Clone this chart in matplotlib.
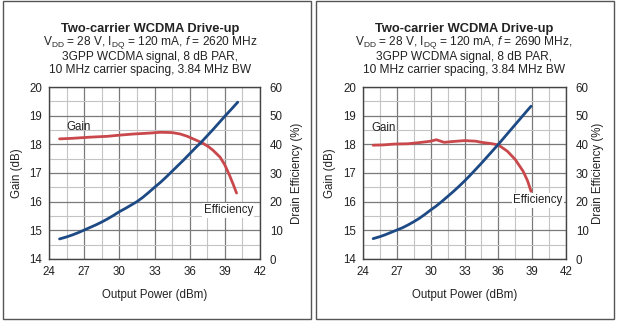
import matplotlib
matplotlib.use("Agg")
import matplotlib.pyplot as plt
from matplotlib.patches import Rectangle

plt.rcParams['font.family'] = ['Liberation Sans', 'DejaVu Sans']
plt.rcParams['mathtext.fontset'] = 'custom'
plt.rcParams['mathtext.rm'] = 'Liberation Sans'
plt.rcParams['mathtext.it'] = 'Liberation Sans:italic'

# ---- data ----
freqs = ["2620", "2690"]
subtitle_sep = [" MHz", " MHz,"]

# 2620 MHz panel
gain_x_a = [24.9, 26.0, 27.5, 29.0, 30.0, 31.2, 32.5, 33.5, 34.5, 35.2, 35.8, 36.3, 36.8,
            37.2, 37.6, 38.0, 38.6, 39.0, 39.4, 39.7, 40.0]
gain_y_a = [18.19, 18.21, 18.25, 18.28, 18.32, 18.36, 18.39, 18.42, 18.41, 18.36, 18.28, 18.19, 18.10,
            18.02, 17.92, 17.79, 17.55, 17.28, 16.92, 16.62, 16.30]
eff_x_a = [24.9, 25.5, 26.0, 26.5, 27.0, 27.5, 28.0, 28.5, 29.0, 29.5, 30.0, 30.5, 31.0, 31.5,
           32.0, 32.5, 33.0, 33.5, 34.0, 34.5, 35.0, 35.5, 36.0, 36.5, 37.0, 37.5, 38.0, 38.5,
           39.0, 39.5, 40.1]
eff_y_a = [7.0, 7.7, 8.4, 9.2, 10.1, 11.0, 11.9, 12.9, 14.0, 15.2, 16.5, 17.6, 18.8, 20.0,
           21.5, 23.2, 25.0, 26.7, 28.6, 30.6, 32.6, 34.6, 36.7, 38.8, 40.8, 43.0, 45.2, 47.5,
           49.8, 52.0, 54.7]

# 2690 MHz panel
gain_x_b = [24.9, 25.8, 26.8, 28.0, 29.2, 30.0, 30.5, 31.2, 32.0, 33.0, 34.0, 34.5, 35.3, 36.0,
            36.8, 37.5, 38.2, 38.6, 38.9]
gain_y_b = [17.97, 17.98, 18.01, 18.02, 18.07, 18.11, 18.16, 18.07, 18.10, 18.13, 18.11, 18.07, 18.03, 17.98,
            17.76, 17.47, 17.06, 16.72, 16.36]
eff_x_b = [24.9, 25.5, 26.0, 26.5, 27.0, 27.5, 28.0, 28.5, 29.0, 29.5, 30.0, 30.5, 31.0, 31.5,
           32.0, 32.5, 33.0, 33.5, 34.0, 34.5, 35.0, 35.5, 36.0, 36.5, 37.0, 37.5, 38.0, 38.5,
           38.9]
eff_y_b = [7.1, 7.8, 8.5, 9.3, 10.1, 10.9, 11.9, 13.0, 14.2, 15.6, 17.1, 18.5, 20.1, 21.8,
           23.5, 25.3, 27.2, 29.2, 31.3, 33.4, 35.6, 37.8, 40.0, 42.3, 44.6, 46.9, 49.2, 51.5,
           53.3]

x_ticks = [24, 27, 30, 33, 36, 39, 42]
gain_ticks = [14, 15, 16, 17, 18, 19, 20]
eff_ticks = [0, 10, 20, 30, 40, 50, 60]

RED = "#c9484c"
BLUE = "#1d4a85"
TXT = "#222222"
W, H = 617, 321

fig = plt.figure(figsize=(W / 100, H / 100), dpi=100)
fig.patch.set_facecolor("white")


def px(x0, y0, w, h):
    """pixel box (top-left origin) -> figure fraction rect"""
    return [x0 / W, (H - y0 - h) / H, w / W, h / H]


panels = [
    dict(box=(3, 1, 308, 318), ax=(49, 87, 211, 172), gx=gain_x_a, gy=gain_y_a,
         ex=eff_x_a, ey=eff_y_a, f=freqs[0], sep=subtitle_sep[0],
         gain_lbl=(25.5, 18.6), eff_lbl=(37.2, 15.7), ylab_x=17, y2lab_x=297, cx=150),
    dict(box=(316, 1, 298, 318), ax=(363, 87, 203, 172), gx=gain_x_b, gy=gain_y_b,
         ex=eff_x_b, ey=eff_y_b, f=freqs[1], sep=subtitle_sep[1],
         gain_lbl=(24.7, 18.57), eff_lbl=(37.3, 16.05), ylab_x=330, y2lab_x=598, cx=464),
]

for p in panels:
    bx = p['box']
    fig.patches.append(Rectangle((bx[0] / W, (H - bx[1] - bx[3]) / H), bx[2] / W, bx[3] / H,
                                 transform=fig.transFigure, fill=False,
                                 edgecolor="#555555", linewidth=1.0))

    ax = fig.add_axes(px(*p['ax']))
    ax.set_xlim(24, 42)
    ax.set_ylim(14, 20)
    ax.set_xticks(x_ticks)
    ax.set_yticks(gain_ticks)
    ax.set_xticks([24 + 1.5 * i for i in range(13)], minor=True)
    ax.set_yticks([14 + 0.5 * i for i in range(13)], minor=True)
    ax.grid(True, which='major', color="#7a7a7a", linewidth=0.9)
    ax.grid(True, which='minor', color="#c4c4c4", linewidth=0.8)
    ax.set_axisbelow(True)
    ax.tick_params(which='both', length=0, labelsize=8.3, colors=TXT, pad=5)
    for s in ax.spines.values():
        s.set_color("#444444")
        s.set_linewidth(1.0)

    ax.plot(p['gx'], p['gy'], color=RED, linewidth=2.0, solid_capstyle='round')

    ax2 = ax.twinx()
    ax2.set_ylim(0, 60)
    ax2.set_yticks(eff_ticks)
    ax2.tick_params(length=0, labelsize=8.3, colors=TXT, pad=7)
    for s in ax2.spines.values():
        s.set_visible(False)
    ax2.plot(p['ex'], p['ey'], color=BLUE, linewidth=2.0, solid_capstyle='round')

    ax.text(*p['gain_lbl'], "Gain", fontsize=8.3, color=TXT, ha='left', va='center')
    ax.text(*p['eff_lbl'], "Efficiency", fontsize=8.3, color=TXT, ha='left', va='center',
            bbox=dict(facecolor='white', edgecolor='none', pad=1.0), zorder=5)

    fig.text(p['ylab_x'] / W, 1 - 173 / H, "Gain (dB)", rotation=90, fontsize=8.3,
             ha='center', va='center', color=TXT)
    fig.text(p['y2lab_x'] / W, 1 - 173 / H, "Drain Efficiency (%)", rotation=90, fontsize=8.3,
             ha='center', va='center', color=TXT)
    axc = (p['ax'][0] + p['ax'][2] / 2) / W
    fig.text(axc, 1 - 295 / H, "Output Power (dBm)", fontsize=8.3, ha='center', va='center',
             color=TXT)

    cx = p['cx'] / W
    fig.text(cx, 1 - 29 / H, "Two-carrier WCDMA Drive-up", fontsize=9.3, fontweight='bold',
             ha='center', va='center', color=TXT)
    fig.text(cx, 1 - 43 / H,
             r"V$_{\rm DD}$ = 28 V, I$_{\rm DQ}$ = 120 mA, $f$ = " + p['f'] + p['sep'],
             fontsize=8.6, ha='center', va='center', color=TXT)
    fig.text(cx, 1 - 57 / H, "3GPP WCDMA signal, 8 dB PAR,", fontsize=8.6,
             ha='center', va='center', color=TXT)
    fig.text(cx, 1 - 70 / H, "10 MHz carrier spacing, 3.84 MHz BW", fontsize=8.6,
             ha='center', va='center', color=TXT)

fig.savefig("out.png", dpi=100)
